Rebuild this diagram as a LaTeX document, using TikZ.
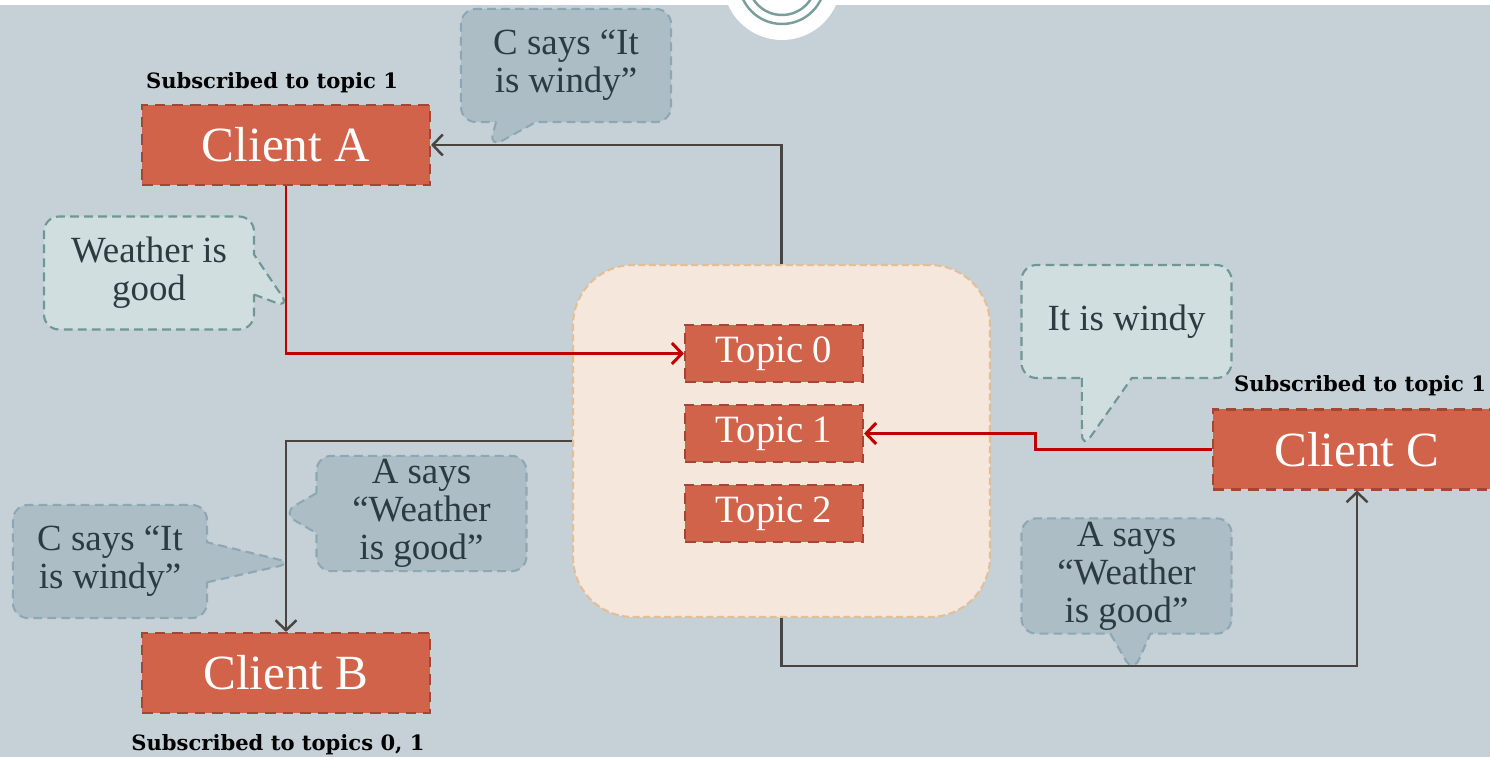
\documentclass[tikz,border=0pt]{standalone}
\usepackage{fontspec}
\setmainfont{Liberation Serif}
\newfontfamily\labelfont{DejaVu Serif}
\usepackage{tikz}
\usetikzlibrary{positioning, arrows.meta, shapes.callouts}

\definecolor{bgblue}{HTML}{C5D1D7}
\definecolor{clientfill}{HTML}{D1634A}
\definecolor{clientline}{HTML}{A14835}
\definecolor{brokerfill}{HTML}{F5E7DB}
\definecolor{brokerline}{HTML}{E3BF97}
\definecolor{msgfill}{HTML}{D0DEE0}
\definecolor{msgline}{HTML}{6F9894}
\definecolor{fwdfill}{HTML}{ADBDC6}
\definecolor{fwdline}{HTML}{8DA8B5}
\definecolor{msgtext}{HTML}{2B3B40}
\definecolor{wireline}{HTML}{4A4441}
\definecolor{publine}{HTML}{C00000}
\definecolor{ringline}{HTML}{7A9E9A}

\tikzset{
  client/.style={rectangle, fill=clientfill, draw=clientline, densely dashed,
    line width=0.6pt, minimum width=2.88cm, minimum height=0.8cm,
    text=white, font=\fontsize{14}{16}\selectfont},
  topic/.style={rectangle, fill=clientfill, draw=clientline, densely dashed,
    line width=0.6pt, minimum width=1.78cm, minimum height=0.49cm,
    text=white, font=\fontsize{11}{13}\selectfont},
  broker/.style={rectangle, rounded corners=6mm, fill=brokerfill, draw=brokerline,
    dash pattern=on 2pt off 1pt, line width=0.6pt,
    minimum width=4.17cm, minimum height=3.52cm},
  sublabel/.style={font=\labelfont\bfseries\fontsize{6}{7}\selectfont, text=black},
  bubble/.style={rectangle callout, rounded corners=1.5mm, dash pattern=on 2.5pt off 1.5pt,
    line width=0.6pt, minimum width=2.1cm, minimum height=1.13cm, inner sep=1pt,
    align=center, text=msgtext, callout pointer width=4mm,
    font=\fontsize{10.5}{10.8}\selectfont},
  msg/.style={bubble, fill=msgfill, draw=msgline},
  fwd/.style={bubble, fill=fwdfill, draw=fwdline},
  wire/.style={draw=wireline, line width=0.7pt},
  pub/.style={draw=publine, line width=0.85pt},
  >={Straight Barb[length=1mm,width=2.1mm]}
}

\begin{document}
\begin{tikzpicture}
\useasboundingbox (0,0) rectangle (14.9,-7.57);

% Background and top ornament
\fill[bgblue] (0,0) rectangle (14.9,-7.57);
\begin{scope}
\clip (0,0) rectangle (14.9,-7.57);
\fill[white] (0,0) rectangle (14.9,-0.05);
\fill[white] (7.82,0.19) circle (0.59);
\draw[ringline, line width=0.7pt] (7.82,0.19) circle (0.43);
\draw[ringline, line width=0.7pt] (7.82,0.19) circle (0.34);
\end{scope}

% Broker and topics
\node[broker] (broker) at (7.815,-4.41) {};
\node[topic] (topic0) at (7.74,-3.535) {Topic 0};
\node[topic] (topic1) at (7.74,-4.335) {Topic 1};
\node[topic] (topic2) at (7.74,-5.135) {Topic 2};

% Clients
\node[client] (clientA) at (2.86,-1.45) {Client A};
\node[client] (clientB) at (2.86,-6.73) {Client B};
\node[client] (clientC) at (13.57,-4.495) {Client C};

% Subscriptions
\node[sublabel] (subA) at (2.72,-0.83) {Subscribed to topic 1};
\node[sublabel] (subB) at (2.78,-7.45) {Subscribed to topics 0, 1};
\node[sublabel] (subC) at (13.6,-3.86) {Subscribed to topic 1};

% Tips of the bubbles
\coordinate (tipA) at (2.9,-3.08);
\coordinate (tipC) at (10.82,-4.49);
\coordinate (tipAC) at (4.89,-1.48);
\coordinate (tipAB) at (2.82,-5.13);
\coordinate (tipCB) at (2.93,-5.63);
\coordinate (tipACC) at (11.33,-6.73);

% Published messages
\node[msg, callout absolute pointer={(tipA)}] (msgA) at (1.49,-2.73) {Weather is\\good};
\node[msg, callout pointer width=5mm, callout absolute pointer={(tipC)}] (msgC) at (11.265,-3.215) {It is windy};

% Forwarded messages
\node[fwd, callout absolute pointer={(tipAC)}] (fwdCA) at (5.66,-0.655) {C says “It\\is windy”};
\node[fwd, callout absolute pointer={(tipAB)}] (fwdAB) at (4.215,-5.135) {A says\\“Weather\\is good”};
\node[fwd, minimum width=1.94cm, callout absolute pointer={(tipCB)}] (fwdCB) at (1.1,-5.615) {C says “It\\is windy”};
\node[fwd, callout absolute pointer={(tipACC)}] (fwdAC) at (11.265,-5.76) {A says\\“Weather\\is good”};

% Publishing
\draw[pub,->] (clientA.south) |- (topic0.west);
\draw[pub,->] (clientC.west) -- ++(-1.76,0) |- (topic1.east);

% Delivering
\draw[wire,->] (broker.north) |- (clientA.east);
\draw[wire,->] (broker.west) -| (clientB.north);
\draw[wire,->] (broker.south) -- ++(0,-0.48) -| (clientC.south);
\end{tikzpicture}
\end{document}
